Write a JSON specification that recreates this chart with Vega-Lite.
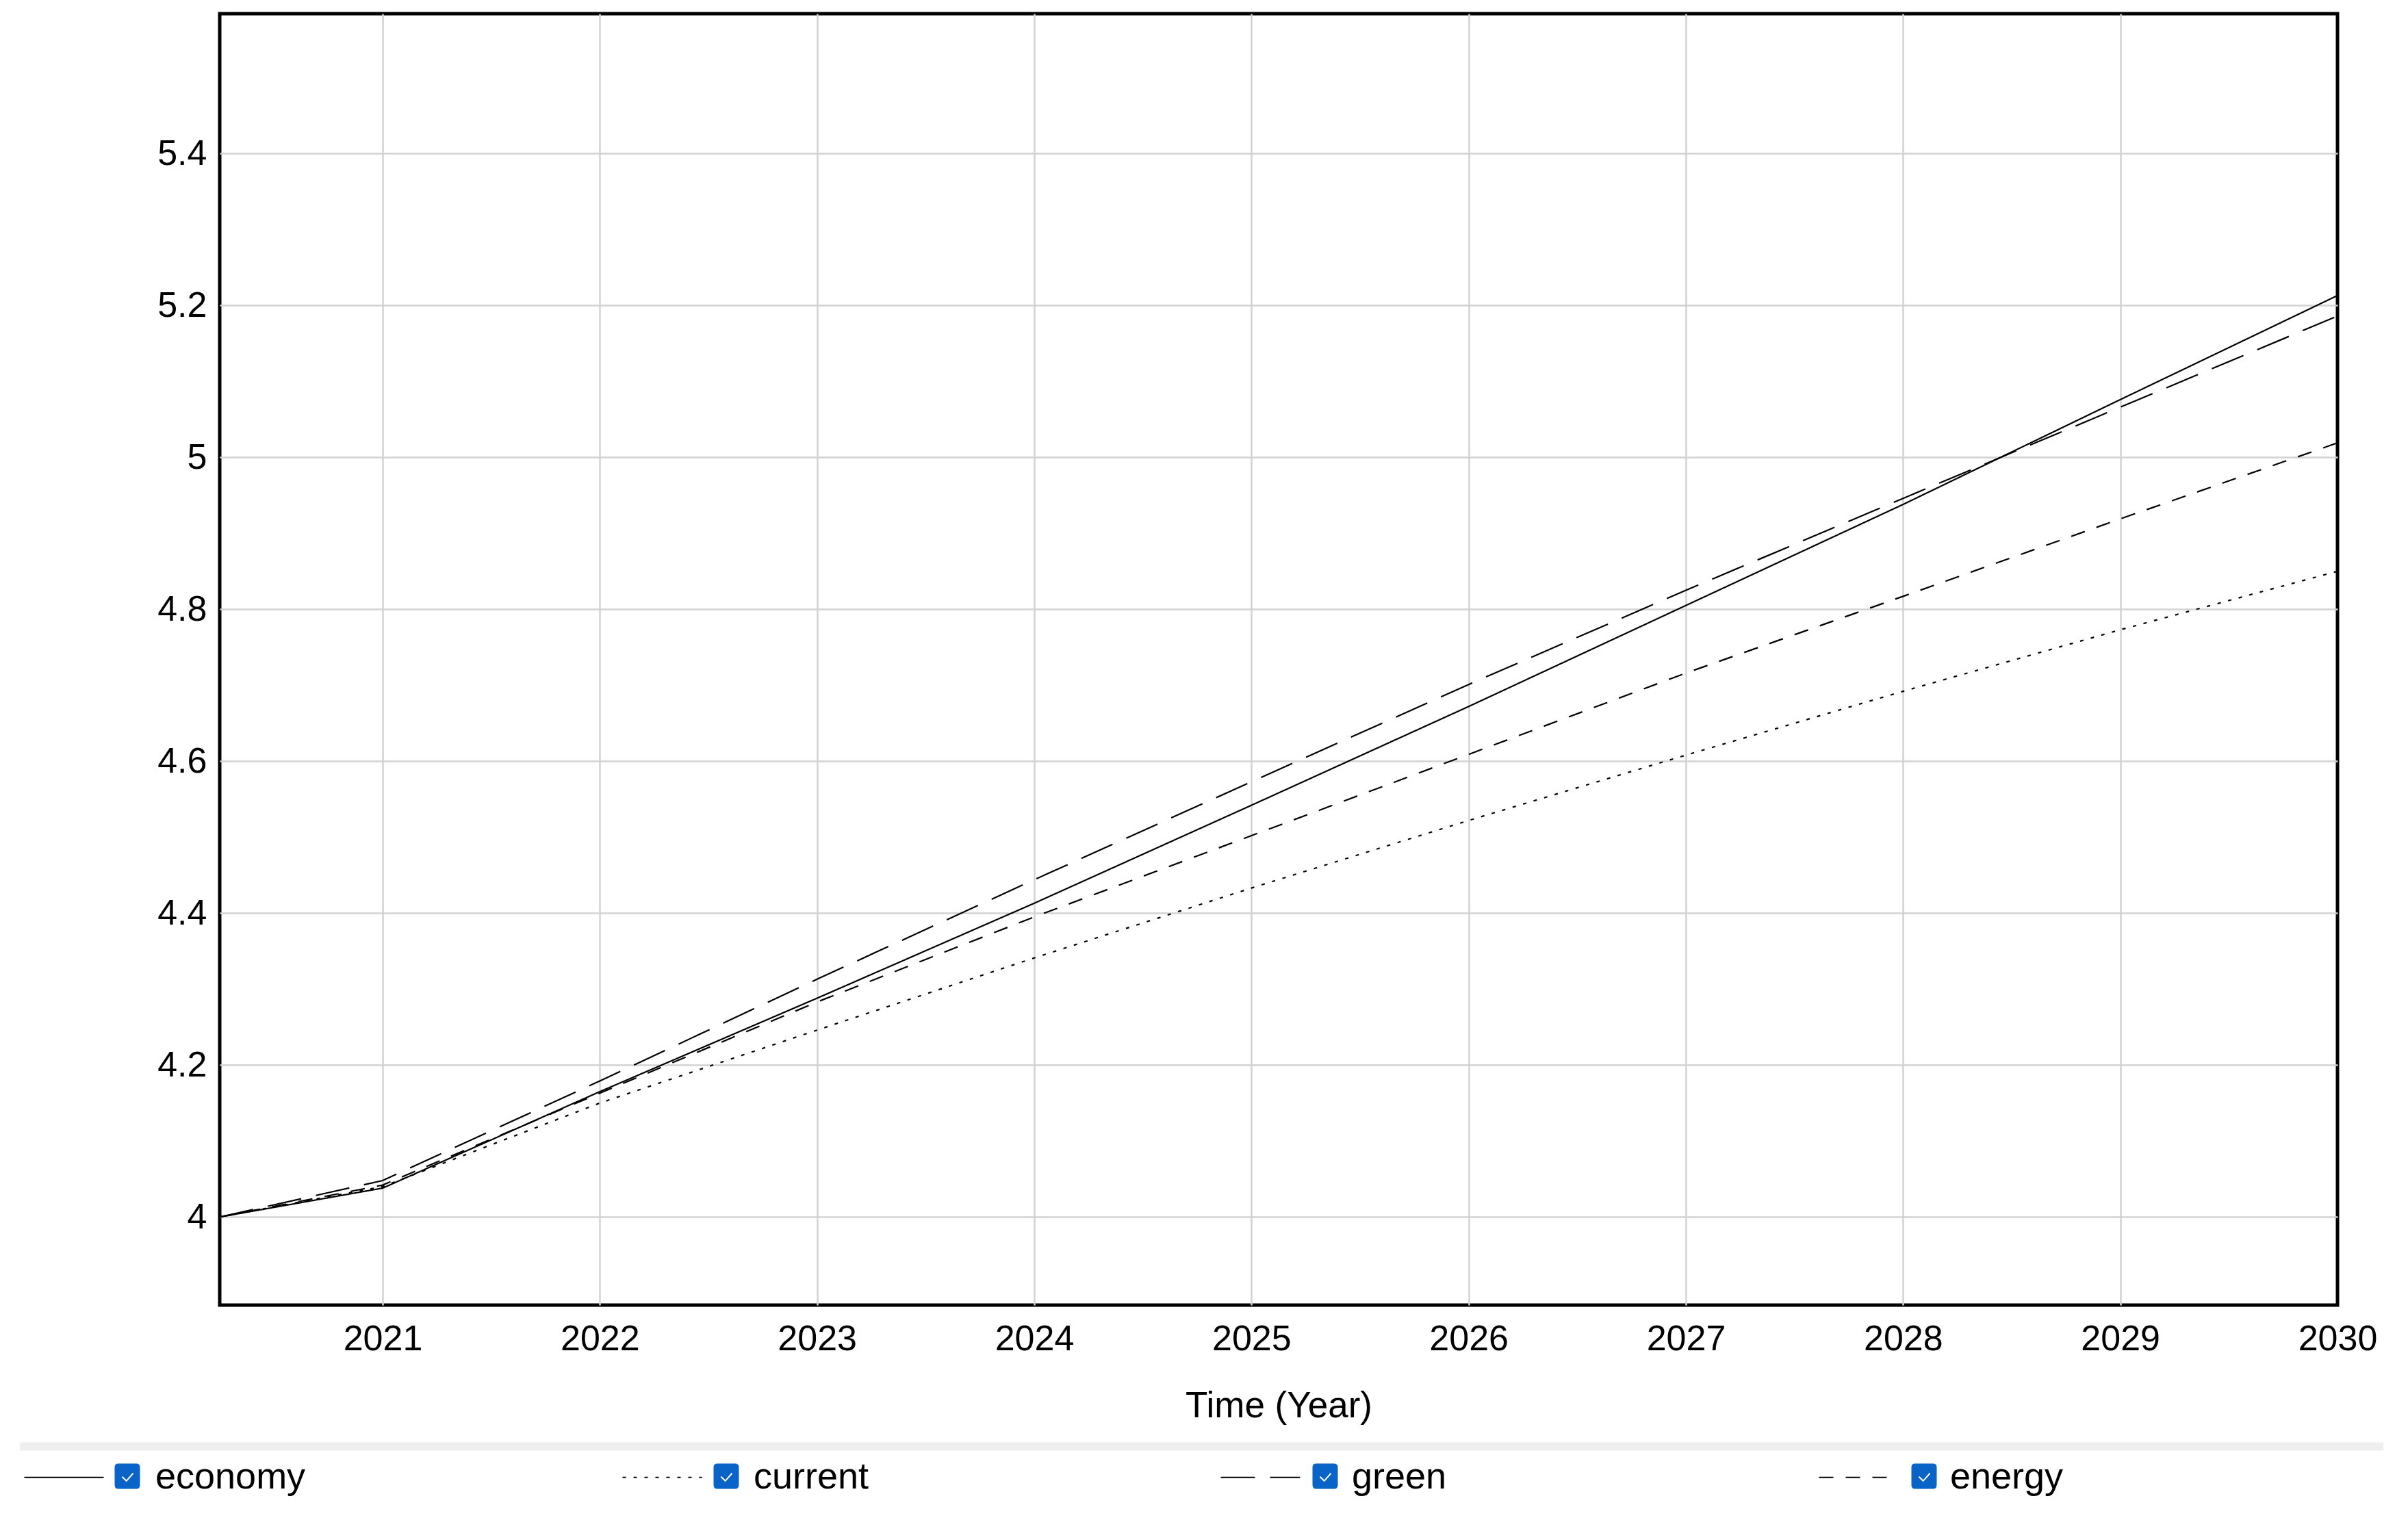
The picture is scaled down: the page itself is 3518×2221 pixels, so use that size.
{
  "$schema": "https://vega.github.io/schema/vega-lite/v6.json",
  "width": 3094,
  "height": 1887,
  "autosize": {"type": "none"},
  "padding": {"left": 321, "top": 20, "right": 103, "bottom": 314},
  "background": "white",
  "config": {
    "font": "Liberation Sans",
    "view": {"stroke": "black", "strokeWidth": 5},
    "axis": {
      "labelFont": "Liberation Sans",
      "titleFont": "Liberation Sans",
      "labelColor": "black",
      "titleColor": "black",
      "labelFontSize": 52,
      "titleFontSize": 53,
      "titleFontWeight": "normal",
      "domain": false,
      "ticks": false,
      "tickSize": 0,
      "grid": true,
      "gridColor": "#d2d2d2",
      "gridWidth": 2.5
    },
    "legend": {
      "labelFont": "Liberation Sans",
      "labelColor": "black",
      "padding": 0,
      "rowPadding": 0
    }
  },
  "datasets": {
    "series": [
      {"year": 2020.25, "value": 4.0, "series": "economy"},
      {"year": 2021, "value": 4.038, "series": "economy"},
      {"year": 2022, "value": 4.165, "series": "economy"},
      {"year": 2023, "value": 4.288, "series": "economy"},
      {"year": 2024, "value": 4.413, "series": "economy"},
      {"year": 2025, "value": 4.542, "series": "economy"},
      {"year": 2026, "value": 4.672, "series": "economy"},
      {"year": 2027, "value": 4.805, "series": "economy"},
      {"year": 2028, "value": 4.938, "series": "economy"},
      {"year": 2029, "value": 5.076, "series": "economy"},
      {"year": 2030, "value": 5.213, "series": "economy"},
      {"year": 2020.25, "value": 4.0, "series": "current"},
      {"year": 2021, "value": 4.04, "series": "current"},
      {"year": 2022, "value": 4.15, "series": "current"},
      {"year": 2023, "value": 4.246, "series": "current"},
      {"year": 2024, "value": 4.341, "series": "current"},
      {"year": 2025, "value": 4.433, "series": "current"},
      {"year": 2026, "value": 4.522, "series": "current"},
      {"year": 2027, "value": 4.608, "series": "current"},
      {"year": 2028, "value": 4.692, "series": "current"},
      {"year": 2029, "value": 4.773, "series": "current"},
      {"year": 2030, "value": 4.85, "series": "current"},
      {"year": 2020.25, "value": 4.0, "series": "green"},
      {"year": 2021, "value": 4.048, "series": "green"},
      {"year": 2022, "value": 4.179, "series": "green"},
      {"year": 2023, "value": 4.313, "series": "green"},
      {"year": 2024, "value": 4.444, "series": "green"},
      {"year": 2025, "value": 4.573, "series": "green"},
      {"year": 2026, "value": 4.701, "series": "green"},
      {"year": 2027, "value": 4.825, "series": "green"},
      {"year": 2028, "value": 4.946, "series": "green"},
      {"year": 2029, "value": 5.066, "series": "green"},
      {"year": 2030, "value": 5.186, "series": "green"},
      {"year": 2020.25, "value": 4.0, "series": "energy"},
      {"year": 2021, "value": 4.042, "series": "energy"},
      {"year": 2022, "value": 4.163, "series": "energy"},
      {"year": 2023, "value": 4.283, "series": "energy"},
      {"year": 2024, "value": 4.395, "series": "energy"},
      {"year": 2025, "value": 4.502, "series": "energy"},
      {"year": 2026, "value": 4.609, "series": "energy"},
      {"year": 2027, "value": 4.716, "series": "energy"},
      {"year": 2028, "value": 4.817, "series": "energy"},
      {"year": 2029, "value": 4.919, "series": "energy"},
      {"year": 2030, "value": 5.019, "series": "energy"}
    ],
    "separator": [{"sep": "bar"}]
  },
  "layer": [
    {
      "data": {"name": "series"},
      "mark": {"type": "line", "color": "black", "strokeWidth": 2.2},
      "encoding": {
        "x": {
          "field": "year",
          "type": "quantitative",
          "scale": {"domain": [2020.25, 2030], "nice": false, "zero": false},
          "axis": {
            "values": [2021, 2022, 2023, 2024, 2025, 2026, 2027, 2028, 2029, 2030],
            "format": "d",
            "title": "Time (Year)",
            "labelFlush": false,
            "labelOverlap": false,
            "labelPadding": 24,
            "titlePadding": 46,
            "gridOpacity": {"condition": {"test": "datum.value >= 2030", "value": 0}, "value": 1}
          }
        },
        "y": {
          "field": "value",
          "type": "quantitative",
          "scale": {"domain": [3.884, 5.584], "nice": false, "zero": false},
          "axis": {
            "values": [4, 4.2, 4.4, 4.6, 4.8, 5, 5.2, 5.4],
            "format": ".1~f",
            "title": null,
            "labelPadding": 19
          }
        },
        "strokeDash": {
          "field": "series",
          "type": "nominal",
          "scale": {
            "domain": ["economy", "current", "green", "energy"],
            "range": [[1, 0], [5, 11], [50, 22], [21, 18]]
          },
          "legend": {
            "orient": "none",
            "legendX": -287,
            "legendY": 2079,
            "direction": "horizontal",
            "columns": 4,
            "title": null,
            "symbolType": "stroke",
            "symbolSize": 13456,
            "symbolStrokeWidth": 2.2,
            "symbolStrokeColor": "black",
            "labelFontSize": 54,
            "labelLimit": 600,
            "labelOffset": 74,
            "columnPadding": 458,
            "gridAlign": "all"
          }
        }
      }
    },
    {
      "data": {"name": "series"},
      "mark": {"type": "point", "filled": true, "size": 0},
      "encoding": {
        "x": {"field": "year", "type": "quantitative"},
        "y": {"field": "value", "type": "quantitative"},
        "fill": {
          "field": "series",
          "type": "nominal",
          "sort": ["economy", "current", "green", "energy"],
          "scale": {"range": ["#0a64c8", "#0a64c8", "#0a64c8", "#0a64c8"]},
          "legend": {
            "orient": "none",
            "legendX": -162,
            "legendY": 2110,
            "direction": "horizontal",
            "columns": 4,
            "title": null,
            "symbolType": "M-0.7,-1L0.7,-1Q1,-1 1,-0.7L1,0.7Q1,1 0.7,1L-0.7,1Q-1,1 -1,0.7L-1,-0.7Q-1,-1 -0.7,-1Z M-0.45,0.08L-0.07,0.45L0.5,-0.19L0.42,-0.27L-0.07,0.3L-0.37,0Z",
            "symbolSize": 1369,
            "symbolStrokeWidth": 0,
            "symbolOpacity": 1,
            "labelExpr": "''",
            "labelFontSize": 54,
            "labelOffset": 0,
            "columnPadding": 821,
            "gridAlign": "all"
          }
        }
      }
    },
    {
      "data": {"name": "separator"},
      "mark": {"type": "point", "filled": true, "size": 0, "color": "#efefef"},
      "encoding": {
        "shape": {
          "field": "sep",
          "type": "nominal",
          "scale": {"range": ["M-1,-0.0035L1,-0.0035L1,0.0035L-1,0.0035Z"]},
          "legend": {
            "orient": "none",
            "legendX": -292,
            "legendY": 367,
            "title": null,
            "symbolSize": 11923209,
            "symbolStrokeWidth": 0,
            "symbolFillColor": "#efefef",
            "symbolOpacity": 1,
            "labelExpr": "''",
            "labelFontSize": 1,
            "labelOffset": 0
          }
        }
      }
    }
  ]
}
